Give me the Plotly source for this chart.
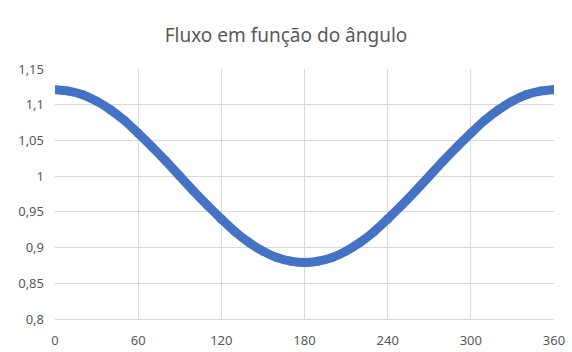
import plotly.graph_objects as go

# Angle (degrees) and normalised flux
angulo = list(range(0, 361, 10))
fluxo = [1.121, 1.119, 1.114, 1.105, 1.093, 1.078, 1.060, 1.041, 1.021, 1.000,
         0.979, 0.959, 0.940, 0.922, 0.907, 0.895, 0.886, 0.881, 0.879,
         0.881, 0.886, 0.895, 0.907, 0.922, 0.940, 0.959, 0.979, 1.000,
         1.021, 1.041, 1.060, 1.078, 1.093, 1.105, 1.114, 1.119, 1.121]

x_ticks = [0, 60, 120, 180, 240, 300, 360]
y_ticks = [0.8, 0.85, 0.9, 0.95, 1.0, 1.05, 1.1, 1.15]
y_tick_text = ["0,8", "0,85", "0,9", "0,95", "1", "1,05", "1,1", "1,15"]

azul = "#4472C4"
cinza_texto = "#595959"
cinza_grade = "#D9D9D9"

fig = go.Figure(
    go.Scatter(
        x=angulo, y=fluxo, mode="lines+markers",
        line=dict(color=azul, width=9, shape="spline"),
        marker=dict(color=azul, size=9),
        hoverinfo="skip", showlegend=False,
    )
)

fig.update_layout(
    width=572, height=352,
    margin=dict(l=55, r=18, t=69, b=33),
    paper_bgcolor="white", plot_bgcolor="white",
    font=dict(family="Noto Sans, Open Sans, sans-serif", color=cinza_texto, size=12),
    title=dict(text="Fluxo em função do ângulo", x=0.5, xanchor="center",
               y=1 - 35 / 352, yanchor="middle",
               font=dict(size=19, color=cinza_texto)),
)

fig.update_xaxes(
    range=[0, 360], tickvals=x_ticks, ticks="", showgrid=True,
    gridcolor=cinza_grade, gridwidth=1, zeroline=False,
    showline=True, linecolor=cinza_grade, linewidth=1, automargin=False,
    ticklabelstandoff=9, tickfont=dict(size=13, color=cinza_texto),
)
fig.update_yaxes(
    range=[0.8, 1.15], tickvals=y_ticks, ticktext=y_tick_text, ticks="",
    showgrid=True, gridcolor=cinza_grade, gridwidth=1, zeroline=False,
    showline=False, ticklabelstandoff=10, automargin=False,
    tickfont=dict(size=13, color=cinza_texto),
)

fig.write_html("out.html")
